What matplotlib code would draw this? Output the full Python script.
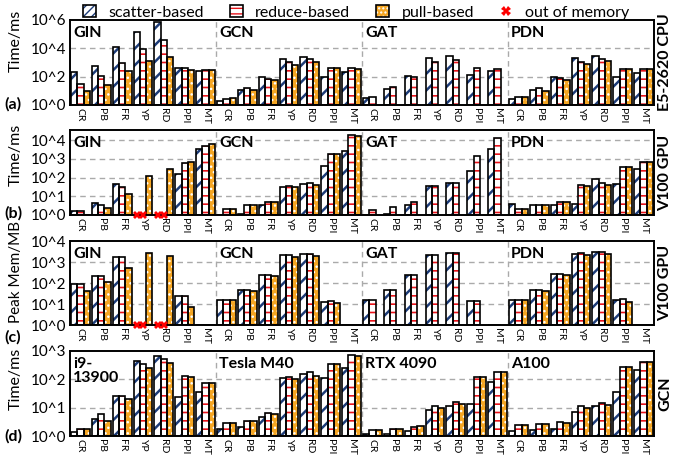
import numpy as np
import matplotlib
matplotlib.use("Agg")
import matplotlib.pyplot as plt
from matplotlib.patches import Patch
from matplotlib.lines import Line2D
from matplotlib.legend_handler import HandlerTuple

plt.rcParams['font.family'] = ['Lato', 'DejaVu Sans']

OOM = -1.0   # out of memory marker
NA = None    # bar not present

datasets = ["CR", "PB", "FR", "YP", "RD", "PPI", "MT"]

# ---------- panel (a): E5-2620 CPU, Time/ms ----------
a_groups = ["GIN", "GCN", "GAT", "PDN"]
a_scatter = [200, 560, 12000, 150000, 700000, 390, 240,
             2.0, 11, 95, 1800, 2600, 100, 220,
             3.1, 14, 120, 2200, 2900, 140, 250,
             2.5, 11, 100, 2100, 2750, 90, 175]
a_reduce = [30, 120, 900, 8500, 36000, 390, 280,
            2.8, 17, 72, 1000, 1650, 390, 440,
            3.6, 18, 90, 1100, 1500, 440, 360,
            3.9, 15, 80, 1100, 1650, 360, 360]
a_pull = [10, 25, 240, 1350, 2450, 280, 280,
          3.0, 11.5, 58, 700, 1150, 390, 360,
          NA, NA, NA, NA, NA, NA, NA,
          3.9, 10, 58, 740, 1200, 350, 360]

# ---------- panel (b): V100 GPU, Time/ms ----------
b_groups = ["GIN", "GCN", "GAT", "PDN"]
b_scatter = [1.7, 4.6, 43, OOM, OOM, 160, 3200,
             1.0, 1.1, 3.3, 32, 44, 410, 2700,
             1.0, 1.2, 3.5, 37, 54, 220, 3500,
             3.7, 3.5, 3.5, 3.9, 81, 48, 280]
b_reduce = [1.6, 3.5, 32, OOM, OOM, 590, 5000,
            2.0, 3.3, 5.1, 37, 54, 1850, 17800,
            1.9, 2.6, 5.1, 37, 50, 1400, 13800,
            2.1, 3.5, 5.1, 39, 51, 350, 690]
b_pull = [1.0, 2.4, 13, 118, 280, 690, 6200,
          2.0, 3.5, 5.1, 33, 41, 1850, 16000,
          NA, NA, NA, NA, NA, NA, NA,
          2.1, 3.3, 4.8, 35, 39, 350, 690]

# ---------- panel (c): V100 GPU, Peak Mem/MB ----------
c_groups = ["GIN", "GCN", "GAT", "PDN"]
c_scatter = [85, 225, 1800, OOM, OOM, 25, 1.0,
             16, 47, 250, 2150, 2400, 13, 1.0,
             16, 47, 250, 2250, 2550, 14, 1.0,
             16, 49, 270, 2400, 2950, 16, 1.0]
c_reduce = [85, 225, 1800, OOM, OOM, 25, 1.0,
            16, 47, 250, 2250, 2500, 14, 1.0,
            16, 47, 250, 2250, 2600, 14.5, 1.0,
            16, 49, 270, 2550, 3100, 17, 1.0]
c_pull = [43, 110, 500, 2700, 1850, 7.6, 1.0,
          15, 43, 220, 1800, 2000, 11, 1.0,
          NA, NA, NA, NA, NA, NA, NA,
          15, 43, 235, 2100, 2400, 12.5, 1.0]

# ---------- panel (d): GCN on various hardware, Time/ms ----------
d_groups = ["i9-\n13900", "Tesla M40", "RTX 4090", "A100"]
d_scatter = [1.35, 4.1, 26, 460, 690, 23, 36,
             1.7, 2.0, 4.7, 115, 160, 115, 260,
             1.2, 1.2, 1.55, 8.1, 11.5, 14, 78,
             1.55, 1.6, 1.75, 7.2, 11, 35, 210]
d_reduce = [1.8, 6.0, 25, 350, 540, 135, 76,
            2.8, 3.3, 6.6, 123, 180, 340, 720,
            1.6, 1.75, 2.1, 11.5, 16.5, 123, 186,
            2.45, 2.6, 3.1, 11, 15, 275, 420]
d_pull = [1.7, 3.5, 19.5, 260, 390, 125, 72,
          2.8, 3.3, 6.2, 100, 135, 340, 690,
          1.6, 1.75, 2.2, 9.8, 13, 123, 186,
          2.4, 2.6, 2.95, 10, 12.3, 275, 410]

NAVY = "#1d3c78"
RED = "#e8141b"
ORANGE = "#f5a623"

series_style = [
    dict(face="white", hatch="//", lhatch="////", hcolor=NAVY, hlw=1.8),
    dict(face="white", hatch="--", lhatch="---", hcolor=RED, hlw=1.2),
    dict(face=ORANGE, hatch="...", lhatch="....", hcolor="white", hlw=1.0),
]


def hatched_bar(ax, x, h, st, **kw):
    try:
        ax.bar(x, h, color=st["face"], hatch=st["hatch"], edgecolor=st["hcolor"],
               linewidth=0, zorder=2, hatch_linewidth=st["hlw"], **kw)
    except Exception:
        with plt.rc_context({"hatch.linewidth": st["hlw"]}):
            ax.bar(x, h, color=st["face"], hatch=st["hatch"], edgecolor=st["hcolor"],
                   linewidth=0, zorder=2, **kw)


fig = plt.figure(figsize=(6.76, 4.61), dpi=100)

L, R = 70 / 676, 654 / 676
panel_px = [(20, 105), (130, 215), (241, 325), (351, 436)]
ylabel_center_px = [41, 155, 272, 379]
tag_center_px = [104, 213, 337, 436]

panels = [
    dict(groups=a_groups, s=[a_scatter, a_reduce, a_pull], top=1e6,
         ticks=[1, 1e2, 1e4, 1e6], tl=["10^0", "10^2", "10^4", "10^6"],
         ylabel="Time/ms", tag="(a)", right="E5-2620 CPU"),
    dict(groups=b_groups, s=[b_scatter, b_reduce, b_pull], top=3.5e4,
         ticks=[1, 1e1, 1e2, 1e3, 1e4], tl=["10^0", "10^1", "10^2", "10^3", "10^4"],
         ylabel="Time/ms", tag="(b)", right="V100 GPU"),
    dict(groups=c_groups, s=[c_scatter, c_reduce, c_pull], top=1e4,
         ticks=[1, 1e1, 1e2, 1e3, 1e4], tl=["10^0", "10^1", "10^2", "10^3", "10^4"],
         ylabel="Peak Mem/MB", tag="(c)", right="V100 GPU"),
    dict(groups=d_groups, s=[d_scatter, d_reduce, d_pull], top=1e3,
         ticks=[1, 1e1, 1e2, 1e3], tl=["10^0", "10^1", "10^2", "10^3"],
         ylabel="Time/ms", tag="(d)", right="GCN"),
]

W = 0.3
offsets = [-W, 0, W]
xs = np.arange(28)
xlabels = datasets * 4

for pi, (p, (ptop, pbot)) in enumerate(zip(panels, panel_px)):
    ax = fig.add_axes([L, 1 - pbot / 461, R - L, (pbot - ptop) / 461])
    ax.set_yscale("log")
    ax.set_ylim(1, p["top"])
    ax.set_xlim(-0.5, 27.5)
    ax.set_yticks(p["ticks"])
    ax.set_yticklabels(p["tl"], fontsize=11)
    ax.yaxis.set_minor_locator(matplotlib.ticker.NullLocator())
    ax.set_xticks(xs)
    ax.set_xticklabels(xlabels, rotation=270, fontsize=7.5)
    ax.tick_params(axis="both", length=0, pad=2)
    ax.tick_params(axis="y", pad=3)
    grid_ticks = [t for t in p["ticks"][1:] if t < p["top"] * 0.99]
    for t in grid_ticks:
        ax.axhline(t, color="#aaaaaa", ls=(0, (4, 3)), lw=1.0, zorder=0)
    for xv in [6.5, 13.5, 20.5]:
        ax.axvline(xv, color="#aaaaaa", ls=(0, (4, 3)), lw=1.0, zorder=0)
    for sp in ax.spines.values():
        sp.set_linewidth(1.4)

    for k, (vals, st) in enumerate(zip(p["s"], series_style)):
        for i, v in enumerate(vals):
            if v is None or v == OOM:
                continue
            x = xs[i] + offsets[k]
            h = max(v - 1.0, 1e-9)
            kw = dict(width=W, bottom=1.0, align="center")
            hatched_bar(ax, x, h, st, **kw)
            ax.bar(x, h, fill=False, edgecolor="black", linewidth=1.2, zorder=3, **kw)
        oom_x = [xs[i] + offsets[k] for i, v in enumerate(vals) if v == OOM]
        if oom_x:
            ax.plot(oom_x, [1.0] * len(oom_x), ls="none", marker="X", color="red",
                    markersize=5.5, markeredgewidth=0, clip_on=False, zorder=5)

    for g, name in enumerate(p["groups"]):
        ax.text(g * 7 - 0.5 + 0.15, 0.93, name, transform=ax.get_xaxis_transform(),
                ha="left", va="top", fontsize=11.5, fontweight="bold", linespacing=1.0)

    fig.text(16 / 676, 1 - ylabel_center_px[pi] / 461, p["ylabel"],
             fontsize=11 if pi == 2 else 11.5, rotation=90, ha="center", va="center")
    fig.text(4 / 676, 1 - tag_center_px[pi] / 461, p["tag"], fontsize=11.5,
             fontweight="bold", ha="left", va="center")
    fig.text(665 / 676, 1 - (ptop + pbot) / 2 / 461, p["right"], fontsize=11.5,
             fontweight="bold", rotation=90, ha="center", va="center")

handles = []
labels = ["scatter-based", "reduce-based", "pull-based"]
for st in series_style:
    try:
        hp = Patch(facecolor=st["face"], hatch=st["lhatch"], edgecolor=st["hcolor"],
                   linewidth=0, hatch_linewidth=st["hlw"])
    except Exception:
        hp = Patch(facecolor=st["face"], hatch=st["lhatch"], edgecolor=st["hcolor"], linewidth=0)
    op = Patch(fill=False, edgecolor="black", linewidth=1.2)
    handles.append((hp, op))
handles.append(Line2D([], [], ls="none", marker="X", color="red", markersize=7, markeredgewidth=0))
labels.append("out of memory")
leg = fig.legend(handles, labels, loc="upper center", bbox_to_anchor=(0.527, 1.02), ncol=4,
                 frameon=False, fontsize=11.5, handlelength=0.8, handleheight=0.8,
                 columnspacing=1.6, handletextpad=0.8,
                 handler_map={tuple: HandlerTuple(ndivide=1, pad=0)})

fig.savefig("out.png", dpi=100)
